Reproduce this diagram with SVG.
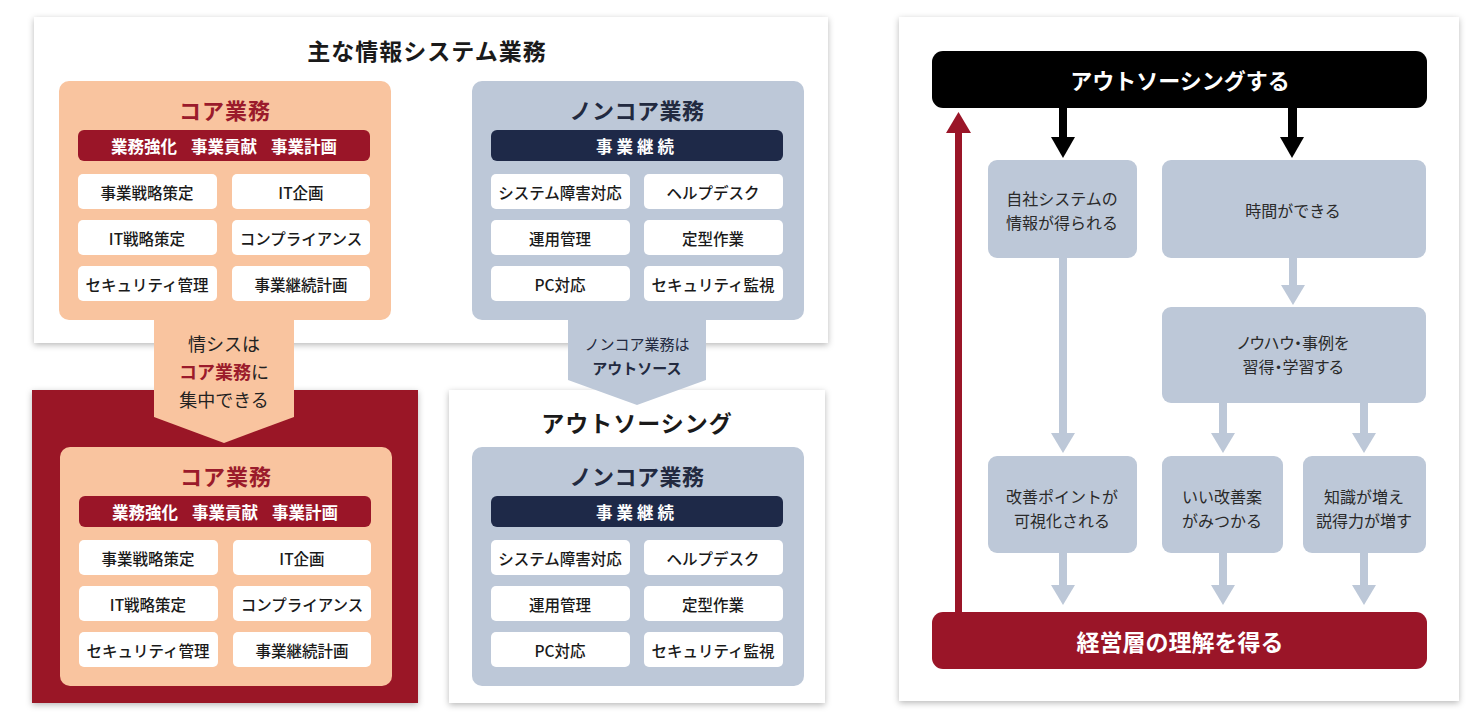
<svg xmlns="http://www.w3.org/2000/svg" width="1483" height="726" viewBox="0 0 1483 726">
<defs>
<filter id="sh" x="-5%" y="-5%" width="110%" height="112%">
<feDropShadow dx="0" dy="2" stdDeviation="3" flood-color="#000" flood-opacity="0.28"/>
</filter>
<style>
text{font-family:"Noto Sans CJK JP","Noto Sans CJK SC",sans-serif;text-anchor:middle;dominant-baseline:central}
.panel{fill:#fff;filter:url(#sh)}
.peach{fill:#f9c49f}
.bg{fill:#bdc8d8}
.red{fill:#9a1528}
.navy{fill:#1e2948}
.cell{fill:#fff}
.ttlR{font-size:22px;font-weight:700;fill:#9b1b2b;letter-spacing:1px}
.ttlN{font-size:22px;font-weight:700;fill:#222a40;letter-spacing:0.5px}
.bar{font-size:16.5px;font-weight:700;fill:#fff}
.ct{font-size:15.5px;font-weight:500;fill:#1a1a1a}
.big{font-size:23px;font-weight:700;fill:#1a1a1a;letter-spacing:1px}
.bt{font-size:16px;fill:#2a2a2a}
.palt{font-feature-settings:"palt" 1}
.wt{font-size:22px;font-weight:700;fill:#fff}
.ga{fill:#bdc8d8}
</style>
</defs>
<rect width="1483" height="726" fill="#fff"/>

<!-- Top-left panel -->
<g id="panel-main">
<rect class="panel" x="34" y="17" width="794" height="326"/>
<text class="big" x="427" y="50">主な情報システム業務</text>
</g>

<!-- Bottom panels -->
<g id="panel-core-focus">
<rect x="32" y="390" width="386" height="313" fill="#9a1528" filter="url(#sh)"/>
</g>
<g id="panel-outsourcing">
<rect class="panel" x="449" y="390" width="376" height="313"/>
<text class="big" x="637" y="422">アウトソーシング</text>
</g>

<!-- Connectors (left) -->
<g id="connectors-left">
<polygon class="peach" points="154,310 294,310 294,417 224,443 154,417"/>
<polygon class="bg" points="568,310 706,310 706,380 637,405 568,380"/>
</g>
<g id="label-core-arrow">
<text x="224" y="343" style="font-size:18px;fill:#222">情シスは</text>
<text x="224" y="371" style="font-size:18px;fill:#222"><tspan style="font-weight:700;fill:#9b1b2b">コア業務</tspan>に</text>
<text x="224" y="399" style="font-size:18px;fill:#222">集中できる</text>
</g>
<g id="label-noncore-arrow">
<text x="637" y="343" style="font-size:15px;fill:#222a40">ノンコア業務は</text>
<text x="637" y="367" style="font-size:15px;font-weight:700;fill:#222a40">アウトソース</text>
</g>

<!-- Core box 1 -->
<g id="core-1">
<rect class="peach" x="59" y="81" width="332" height="239" rx="10"/>
<text class="ttlR" x="225" y="109">コア業務</text>
<rect class="red" x="78" y="130" width="292" height="31" rx="6"/>
<text class="bar" x="144" y="146">業務強化</text>
<text class="bar" x="224" y="146">事業貢献</text>
<text class="bar" x="304" y="146">事業計画</text>
<rect class="cell" x="78" y="174" width="139" height="35" rx="5"/>
<rect class="cell" x="232" y="174" width="138" height="35" rx="5"/>
<rect class="cell" x="78" y="220" width="139" height="35" rx="5"/>
<rect class="cell" x="232" y="220" width="138" height="35" rx="5"/>
<rect class="cell" x="78" y="266" width="139" height="35" rx="5"/>
<rect class="cell" x="232" y="266" width="138" height="35" rx="5"/>
<text class="ct" x="147" y="192">事業戦略策定</text>
<text class="ct" x="301" y="192">IT企画</text>
<text class="ct" x="147" y="238">IT戦略策定</text>
<text class="ct" x="301" y="238">コンプライアンス</text>
<text class="ct" x="147" y="284">セキュリティ管理</text>
<text class="ct" x="301" y="284">事業継続計画</text>
</g>

<!-- Non-core box 1 -->
<g id="noncore-1">
<rect class="bg" x="472" y="81" width="332" height="239" rx="10"/>
<text class="ttlN" x="637" y="109">ノンコア業務</text>
<rect class="navy" x="491" y="130" width="292" height="31" rx="6"/>
<text class="bar" x="637" y="146" style="letter-spacing:4px">事業継続</text>
<rect class="cell" x="491" y="174" width="139" height="35" rx="5"/>
<rect class="cell" x="644" y="174" width="139" height="35" rx="5"/>
<rect class="cell" x="491" y="220" width="139" height="35" rx="5"/>
<rect class="cell" x="644" y="220" width="139" height="35" rx="5"/>
<rect class="cell" x="491" y="266" width="139" height="35" rx="5"/>
<rect class="cell" x="644" y="266" width="139" height="35" rx="5"/>
<text class="ct" x="560" y="192">システム障害対応</text>
<text class="ct" x="713" y="192">ヘルプデスク</text>
<text class="ct" x="560" y="238">運用管理</text>
<text class="ct" x="713" y="238">定型作業</text>
<text class="ct" x="560" y="284">PC対応</text>
<text class="ct" x="713" y="284">セキュリティ監視</text>
</g>

<!-- Core box 2 -->
<g id="core-2" transform="translate(1,366)">
<rect class="peach" x="59" y="81" width="332" height="239" rx="10"/>
<text class="ttlR" x="225" y="109">コア業務</text>
<rect class="red" x="78" y="130" width="292" height="31" rx="6"/>
<text class="bar" x="144" y="146">業務強化</text>
<text class="bar" x="224" y="146">事業貢献</text>
<text class="bar" x="304" y="146">事業計画</text>
<rect class="cell" x="78" y="174" width="139" height="35" rx="5"/>
<rect class="cell" x="232" y="174" width="138" height="35" rx="5"/>
<rect class="cell" x="78" y="220" width="139" height="35" rx="5"/>
<rect class="cell" x="232" y="220" width="138" height="35" rx="5"/>
<rect class="cell" x="78" y="266" width="139" height="35" rx="5"/>
<rect class="cell" x="232" y="266" width="138" height="35" rx="5"/>
<text class="ct" x="147" y="192">事業戦略策定</text>
<text class="ct" x="301" y="192">IT企画</text>
<text class="ct" x="147" y="238">IT戦略策定</text>
<text class="ct" x="301" y="238">コンプライアンス</text>
<text class="ct" x="147" y="284">セキュリティ管理</text>
<text class="ct" x="301" y="284">事業継続計画</text>
</g>

<!-- Non-core box 2 -->
<g id="noncore-2" transform="translate(0,366)">
<rect class="bg" x="472" y="81" width="332" height="239" rx="10"/>
<text class="ttlN" x="637" y="109">ノンコア業務</text>
<rect class="navy" x="491" y="130" width="292" height="31" rx="6"/>
<text class="bar" x="637" y="146" style="letter-spacing:4px">事業継続</text>
<rect class="cell" x="491" y="174" width="139" height="35" rx="5"/>
<rect class="cell" x="644" y="174" width="139" height="35" rx="5"/>
<rect class="cell" x="491" y="220" width="139" height="35" rx="5"/>
<rect class="cell" x="644" y="220" width="139" height="35" rx="5"/>
<rect class="cell" x="491" y="266" width="139" height="35" rx="5"/>
<rect class="cell" x="644" y="266" width="139" height="35" rx="5"/>
<text class="ct" x="560" y="192">システム障害対応</text>
<text class="ct" x="713" y="192">ヘルプデスク</text>
<text class="ct" x="560" y="238">運用管理</text>
<text class="ct" x="713" y="238">定型作業</text>
<text class="ct" x="560" y="284">PC対応</text>
<text class="ct" x="713" y="284">セキュリティ監視</text>
</g>

<!-- Right panel -->
<g id="panel-right">
<rect class="panel" x="899" y="17" width="560" height="684"/>
</g>

<g id="connectors-right">
<rect x="955" y="130" width="7" height="490" fill="#9a1528"/>
<polygon points="946,133 971,133 958.5,112" fill="#9a1528"/>
<rect x="1059" y="100" width="8" height="40" fill="#000"/>
<polygon points="1051,137 1075,137 1063,158" fill="#000"/>
<rect x="1288" y="100" width="9" height="40" fill="#000"/>
<polygon points="1280,137 1304,137 1292,158" fill="#000"/>
<rect class="ga" x="1059" y="255" width="8" height="180"/>
<polygon class="ga" points="1051,433 1075,433 1063,453"/>
<rect class="ga" x="1289" y="255" width="8" height="32"/>
<polygon class="ga" points="1281,285 1305,285 1293,305"/>
<rect class="ga" x="1219" y="400" width="8" height="35"/>
<polygon class="ga" points="1211,433 1235,433 1223,453"/>
<rect class="ga" x="1360" y="400" width="8" height="35"/>
<polygon class="ga" points="1352,433 1376,433 1364,453"/>
<rect class="ga" x="1059" y="550" width="8" height="37"/>
<polygon class="ga" points="1051,585 1075,585 1063,605"/>
<rect class="ga" x="1219" y="550" width="8" height="37"/>
<polygon class="ga" points="1211,585 1235,585 1223,605"/>
<rect class="ga" x="1360" y="550" width="8" height="37"/>
<polygon class="ga" points="1352,585 1376,585 1364,605"/>
</g>

<g id="n-outsource">
<rect x="932" y="51" width="495" height="57" rx="11" fill="#000"/>
<text class="wt" x="1180" y="79">アウトソーシングする</text>
</g>
<g id="n-info">
<rect class="bg" x="988" y="160" width="149" height="98" rx="9"/>
<text class="bt" x="1062" y="198">自社システムの</text>
<text class="bt" x="1062" y="222">情報が得られる</text>
</g>
<g id="n-time">
<rect class="bg" x="1162" y="160" width="264" height="98" rx="9"/>
<text class="bt" x="1293" y="210">時間ができる</text>
</g>
<g id="n-knowhow">
<rect class="bg" x="1162" y="307" width="264" height="96" rx="9"/>
<text class="bt palt" x="1293" y="342">ノウハウ・事例を</text>
<text class="bt palt" x="1293" y="366">習得・学習する</text>
</g>
<g id="n-visible">
<rect class="bg" x="988" y="456" width="149" height="97" rx="9"/>
<text class="bt" x="1062" y="496">改善ポイントが</text>
<text class="bt" x="1062" y="520">可視化される</text>
</g>
<g id="n-idea">
<rect class="bg" x="1162" y="456" width="121" height="97" rx="9"/>
<text class="bt" x="1222" y="496">いい改善案</text>
<text class="bt" x="1222" y="520">がみつかる</text>
</g>
<g id="n-knowledge">
<rect class="bg" x="1303" y="456" width="123" height="97" rx="9"/>
<text class="bt" x="1364" y="496">知識が増え</text>
<text class="bt" x="1364" y="520">説得力が増す</text>
</g>
<g id="n-management">
<rect x="932" y="612" width="495" height="57" rx="11" fill="#9a1528"/>
<text class="wt" x="1180" y="641" style="font-size:23px">経営層の理解を得る</text>
</g>
</svg>
